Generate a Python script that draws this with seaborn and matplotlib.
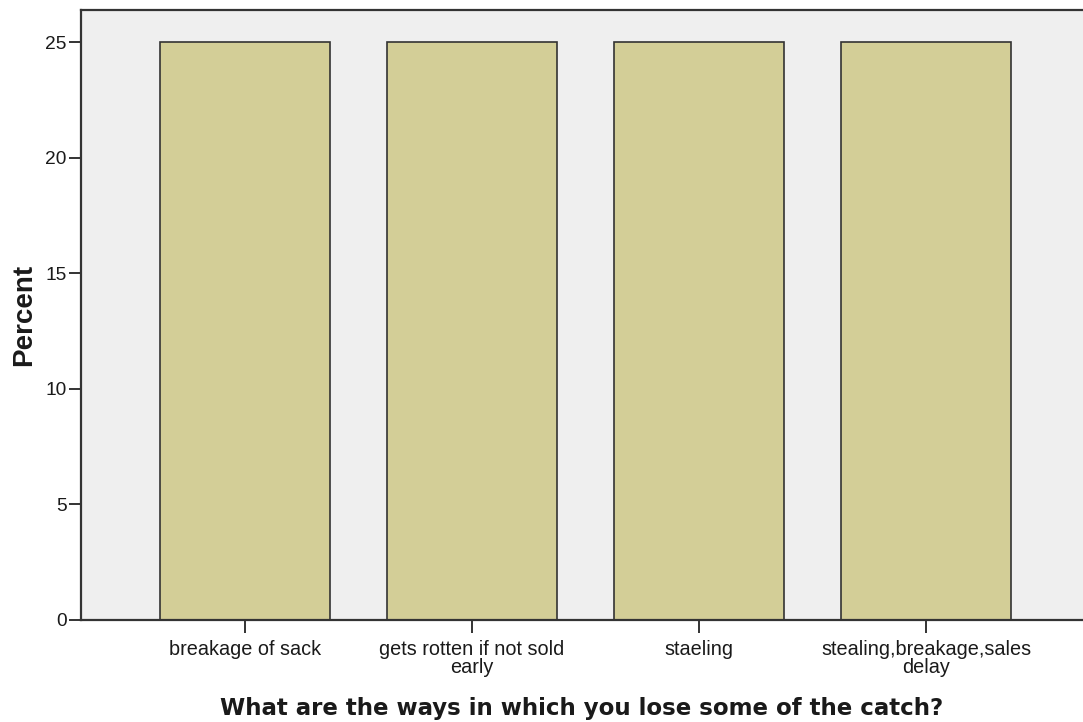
import matplotlib
matplotlib.use("Agg")
import matplotlib.pyplot as plt
import seaborn as sns
import pandas as pd

# categories and percentages
categories = ["breakage of sack", "gets rotten if not sold\nearly", "staeling",
              "stealing,breakage,sales\ndelay"]
percent = [25, 25, 25, 25]

df = pd.DataFrame({"Category": categories, "Percent": percent})

sns.set_style("white")
plt.rcParams['font.family'] = ['Liberation Sans', 'DejaVu Sans']

fig = plt.figure(figsize=(10.83, 7.22), dpi=100)
ax = fig.add_axes([0.0748, 0.1413, 0.9252, 0.8447])
ax.set_facecolor("#EFEFEF")

sns.barplot(data=df, x="Category", y="Percent", color="#D3CE97", width=0.75,
            edgecolor="#333333", linewidth=1.2, saturation=1, ax=ax)

ax.set_xlim(-0.722, 3.69)
ax.set_ylim(0, 26.38)
ax.set_yticks([0, 5, 10, 15, 20, 25])
ax.tick_params(axis="y", direction="out", length=9, width=1.4, labelsize=13.8,
               color="#333333", labelcolor="#1a1a1a", left=True, pad=1.5)
ax.tick_params(axis="x", direction="out", length=9, width=1.4, labelsize=14.3,
               color="#333333", labelcolor="#1a1a1a", bottom=True, pad=5.5)
for lab in ax.get_xticklabels():
    lab.set_linespacing(0.95)

for s in ["left", "bottom", "top"]:
    ax.spines[s].set_visible(True)
    ax.spines[s].set_color("#333333")
    ax.spines[s].set_linewidth(1.6)
ax.spines["right"].set_visible(False)

ax.set_ylabel("Percent", fontsize=20, fontweight="bold", labelpad=6, color="#1a1a1a")
ax.set_xlabel("What are the ways in which you lose some of the catch?",
              fontsize=16.5, fontweight="bold", family=["DejaVu Sans"], color="#1a1a1a")
ax.xaxis.set_label_coords(0.5, -0.126)

fig.savefig("out.png", dpi=100)
